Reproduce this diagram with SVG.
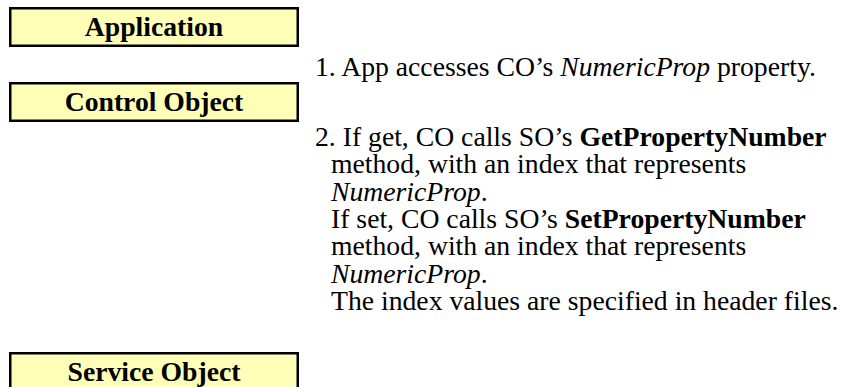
<svg xmlns="http://www.w3.org/2000/svg" width="856" height="387" viewBox="0 0 856 387">
<style>
.box{fill:#FFFFB8;stroke:#000;stroke-width:2.5}
.lbl{font-family:'Liberation Serif','Times New Roman',Times,serif;font-weight:bold;font-size:27.7px;fill:#000;text-anchor:middle}
.t{font-family:'Liberation Serif','Times New Roman',Times,serif;font-size:27.7px;fill:#000}
.i{font-style:italic}
.b{font-weight:bold}
</style>
<rect width="856" height="387" fill="#fff"/>
<g id="application">
<rect class="box" x="10.25" y="8.25" width="287.5" height="37.5"/>
<text class="lbl" x="154" y="36">Application</text>
</g>
<g id="control-object">
<rect class="box" x="10.25" y="83.25" width="287.5" height="37.5"/>
<text class="lbl" x="154" y="111">Control Object</text>
</g>
<g id="service-object">
<rect class="box" x="10.25" y="353.25" width="287.5" height="40"/>
<text class="lbl" x="154" y="381">Service Object</text>
</g>
<g id="connectors"></g>
<g id="notes">
<text class="t" x="315" y="76">1. App accesses CO’s <tspan class="i">NumericProp</tspan> property.</text>
<text class="t" x="315" y="146">2. If get, CO calls SO’s <tspan class="b">GetPropertyNumber</tspan></text>
<text class="t" x="331" y="173">method, with an index that represents</text>
<text class="t" x="331" y="201"><tspan class="i">NumericProp</tspan>.</text>
<text class="t" x="331" y="228">If set, CO calls SO’s <tspan class="b">SetPropertyNumber</tspan></text>
<text class="t" x="331" y="255">method, with an index that represents</text>
<text class="t" x="331" y="283"><tspan class="i">NumericProp</tspan>.</text>
<text class="t" x="331" y="310">The index values are specified in header files.</text>
</g>
</svg>
